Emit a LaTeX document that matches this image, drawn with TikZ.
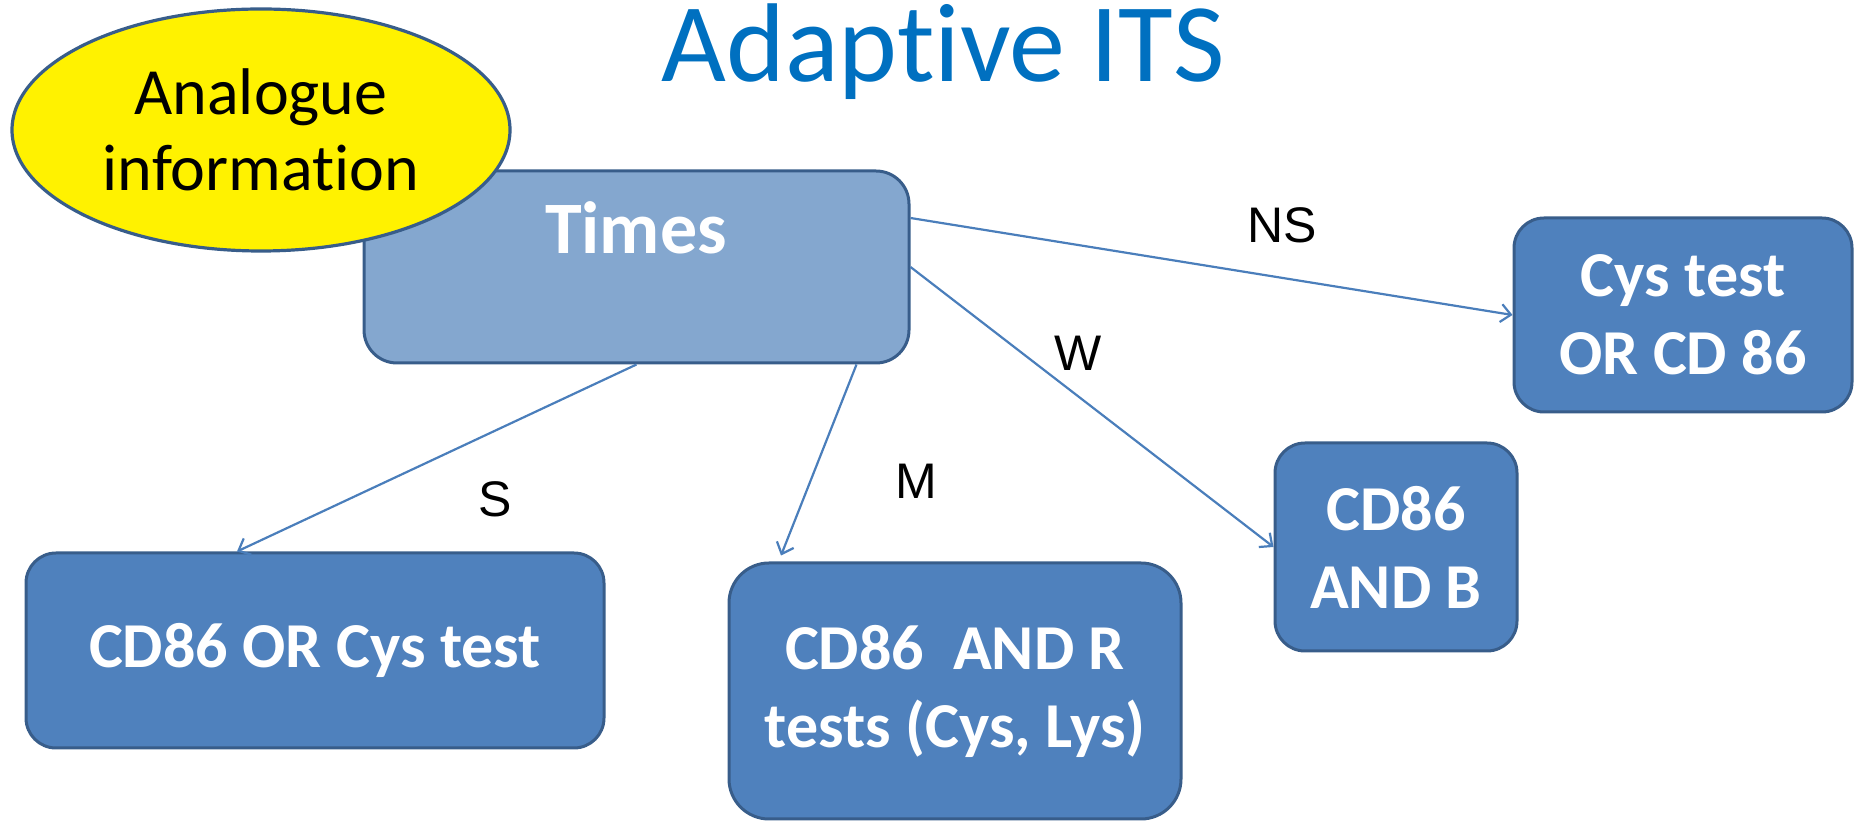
\documentclass[tikz,border=0pt]{standalone}
\usepackage{fontspec}
\setmainfont{Carlito}[Ligatures={NoCommon}]
\newfontfamily\arialf{Liberation Sans}
\usetikzlibrary{arrows.meta,calc,shapes.geometric}
\definecolor{boxfill}{HTML}{4F81BD}
\definecolor{boxline}{HTML}{385D8A}
\definecolor{timesfill}{HTML}{84A7CF}
\definecolor{arrowc}{HTML}{4A7EBB}
\definecolor{titlec}{HTML}{0070C0}
\tikzset{
  darkbox/.style={draw=boxline, fill=boxfill, line width=1.5pt, rounded corners=15pt,
    text=white, align=center, font=\bfseries\fontsize{32}{39}\selectfont, inner sep=0pt},
  conn/.style={draw=arrowc, line width=1.1pt, -{Straight Barb[length=5pt,width=9pt]}},
  elabel/.style={font=\arialf\fontsize{25}{28}\selectfont, text=black, inner sep=0pt},
}
\begin{document}
\begin{tikzpicture}[x=0.5pt,y=-0.5pt]
\useasboundingbox (0,0) rectangle (1858,822);
% title
\node[anchor=base, text=titlec, font=\fontsize{56}{60}\selectfont, inner sep=0pt] (title) at (943,82) {Adaptive ITS};
% Times box
\node[draw=boxline, fill=timesfill, line width=1.5pt, rounded corners=16.5pt,
  minimum width=272.5pt, minimum height=96pt, inner sep=0pt] (times) at (636.5,267) {};
\node[anchor=base, text=white, font=\bfseries\fontsize{37}{40}\selectfont, inner sep=0pt] (timesl) at (636,254) {Times};
% ellipse
\node[ellipse, draw=boxline, fill=yellow, line width=1.6pt, minimum width=249pt, minimum height=121pt,
  inner sep=0pt, align=center, font=\fontsize{33}{38}\selectfont] (ana) at (261,130) {Analogue\\information};
% result boxes
\node[darkbox, minimum width=169pt, minimum height=97pt] (cys) at (1683,315) {Cys test\\OR CD 86};
\node[darkbox, minimum width=121pt, minimum height=104pt] (cdb) at (1396,547) {CD86\\AND B};
\node[darkbox, minimum width=289pt, minimum height=97.5pt] (cdor) at (315,650.5) {CD86 OR Cys test};
\node[darkbox, minimum width=226pt, minimum height=128pt, rounded corners=20pt] (cdr) at (955,691) {CD86~~AND R\\tests (Cys, Lys)};
% connectors
\draw[conn] ([yshift=24.5pt]times.east) -- (cys.west);
\draw[conn] (times.east) -- (cdb.west);
\draw[conn] (times.south) -- ([xshift=-39pt]cdor.north);
\draw[conn] ([xshift=110pt]times.south) -- ([xshift=-87pt,yshift=3pt]cdr.north);
% labels
\node[elabel] (lns) at (1282,225) {NS};
\node[elabel] (lw) at (1078,353) {W};
\node[elabel] (ls) at (495,499) {S};
\node[elabel] (lm) at (916,481) {M};
\end{tikzpicture}
\end{document}
